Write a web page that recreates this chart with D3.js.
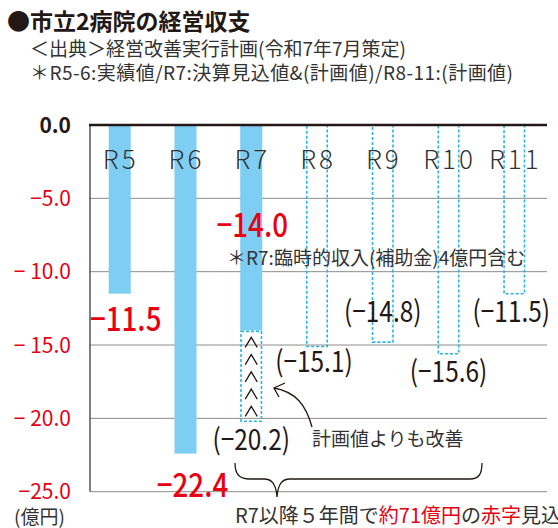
<html lang="ja">
<head>
<meta charset="utf-8">
<title>市立2病院の経営収支</title>
<script src="https://d3js.org/d3.v7.min.js"></script>
<style>
  body { margin: 0; background: #fff; font-family: "Noto Sans CJK JP", sans-serif; }
  svg text { font-family: "Noto Sans CJK JP", sans-serif; }
  .grid { stroke: #8c8c8c; stroke-width: 1; }
  .plan { fill: none; stroke: #2bb3e6; stroke-width: 1.6; stroke-dasharray: 3 2; }
  .ink { fill: none; stroke: #231815; stroke-width: 1.3; }
</style>
</head>
<body>
<div class="main"></div>
<script>
// data
var categories = ["R5", "R6", "R7", "R8", "R9", "R10", "R11"]
var actual = [-11.5, -22.4, -14.0, null, null, null, null]   // 実績値 / 決算見込値
var plan = [null, null, -20.2, -15.1, -14.8, -15.6, -11.5]   // 計画値
var yTicks = [0, -5, -10, -15, -20, -25]
var yTickLabels = ["0.0", "\u22125.0", "\u2212 10.0", "\u2212 15.0", "\u2212 20.0", "\u221225.0"]

var width = 558, height = 528
var red = "#e60012", dark = "#231815", barColor = "#7ecef4"

var svg = d3.select(".main").append("svg")
  .attr("width", width).attr("height", height)

var x = d3.scaleBand()
  .domain(categories)
  .range([87, 547])
  .paddingInner(0.665)
  .paddingOuter(0.33)

var y = d3.scaleLinear()
  .domain([0, -25])
  .range([125, 491.7])

var fmt = function(v){ return "\u2212" + d3.format(".1f")(Math.abs(v)) }

// titles
svg.append("text").attr("x", 7).attr("y", 30)
  .attr("font-size", 23).attr("font-weight", "bold").attr("fill", dark)
  .text("●市立2病院の経営収支")
svg.append("text").attr("x", 30).attr("y", 56)
  .attr("font-size", 19).attr("fill", "#333")
  .text("＜出典＞経営改善実行計画(令和7年7月策定)")
svg.append("text").attr("x", 30).attr("y", 80)
  .attr("font-size", 19).attr("fill", "#333")
  .attr("textLength", 483).attr("lengthAdjust", "spacing")
  .text("＊R5-6:実績値/R7:決算見込値&(計画値)/R8-11:(計画値)")

// grid
svg.selectAll(".grid").data(yTicks.filter(function(d){ return d != 0 }))
  .enter().append("line").attr("class", "grid")
  .attr("x1", 90).attr("x2", 547)
  .attr("y1", function(d){ return y(d) }).attr("y2", function(d){ return y(d) })

// tick labels
svg.selectAll(".tick").data(yTicks).enter().append("text")
  .attr("class", "tick")
  .attr("x", 71).attr("y", function(d){ return y(d) })
  .attr("dy", "0.36em")
  .attr("text-anchor", "end")
  .attr("font-size", 21)
  .attr("font-weight", function(d){ return d == 0 ? "bold" : "normal" })
  .attr("fill", function(d){ return d == 0 ? dark : red })
  .text(function(d, i){ return yTickLabels[i] })

svg.append("text").attr("x", 14).attr("y", 524)
  .attr("font-size", 19).attr("fill", "#333").text("(億円)")

// solid bars
var rows = categories.map(function(c, i){ return {cat: c, actual: actual[i], plan: plan[i]} })

svg.selectAll(".bar").data(rows.filter(function(d){ return d.actual != null }))
  .enter().append("rect").attr("class", "bar")
  .attr("x", function(d){ return x(d.cat) })
  .attr("width", x.bandwidth())
  .attr("y", y(0))
  .attr("height", function(d){ return y(d.actual) - y(0) })
  .attr("fill", barColor)

// dashed plan boxes (start where the solid bar ends)
svg.selectAll(".plan").data(rows.filter(function(d){ return d.plan != null }))
  .enter().append("rect").attr("class", "plan")
  .attr("x", function(d){ return x(d.cat) + 0.8 })
  .attr("width", x.bandwidth() - 1.6)
  .attr("y", function(d){ return d.actual != null ? y(d.actual) + 1 : y(0) })
  .attr("height", function(d){ return y(d.plan) - (d.actual != null ? y(d.actual) + 1 : y(0)) })

// chevrons inside R7 box
var r7 = rows[2]
var cx7 = x(r7.cat) + x.bandwidth() / 2
var chevY = d3.range(5).map(function(i){
  return y(r7.actual) + 12 + i * (y(r7.plan) - y(r7.actual) - 22) / 4
})
svg.selectAll(".chev").data(chevY).enter().append("path")
  .attr("class", "ink")
  .attr("d", function(d){ return "M" + (cx7 - 6) + "," + (d + 5) + "L" + cx7 + "," + (d - 5) + "L" + (cx7 + 6) + "," + (d + 5) })

// axes
svg.append("line").attr("x1", 90).attr("x2", 90).attr("y1", y(0)).attr("y2", y(-25))
  .attr("stroke", "#555").attr("stroke-width", 1.5)
svg.append("line").attr("x1", 89).attr("x2", 547).attr("y1", y(0)).attr("y2", y(0))
  .attr("stroke", dark).attr("stroke-width", 2.5)

// category labels
svg.selectAll(".cat").data(categories).enter().append("text")
  .attr("x", function(d){ return x(d) + x.bandwidth() / 2 + 1 })
  .attr("y", 169)
  .attr("text-anchor", "middle")
  .attr("font-size", 26).attr("font-weight", 300)
  .attr("letter-spacing", 3)
  .attr("fill", "#333")
  .text(function(d){ return d })

// value labels
var actualOff = [[6, 37], [7, 43.5], [1, -93]]
var planOff = [null, null, [0, 29], [-3, 26], [0, -20], [0, 28], [-3, 28]]

function squeeze(sel, k){
  sel.each(function(){
    var w = this.getComputedTextLength()
    d3.select(this).attr("textLength", w * k).attr("lengthAdjust", "spacingAndGlyphs")
  })
}

svg.selectAll(".alab").data(rows.filter(function(d){ return d.actual != null }))
  .enter().append("text")
  .attr("x", function(d, i){ return x(d.cat) + x.bandwidth() / 2 + actualOff[i][0] })
  .attr("y", function(d, i){ return y(d.actual) + actualOff[i][1] })
  .attr("text-anchor", "middle")
  .attr("font-size", 33).attr("font-weight", 500)
  .attr("fill", red)
  .text(function(d){ return fmt(d.actual) })
  .call(squeeze, 0.84)

svg.selectAll(".plab").data(rows).enter()
  .filter(function(d){ return d.plan != null })
  .append("text")
  .attr("x", function(d){ return x(d.cat) + x.bandwidth() / 2 + planOff[categories.indexOf(d.cat)][0] })
  .attr("y", function(d){ return y(d.plan) + planOff[categories.indexOf(d.cat)][1] })
  .attr("text-anchor", "middle")
  .attr("font-size", 29)
  .attr("fill", dark)
  .text(function(d){ return "(" + fmt(d.plan) + ")" })
  .call(squeeze, 0.84)

// notes
svg.append("text").attr("x", 227).attr("y", 265)
  .attr("font-size", 19).attr("fill", "#333")
  .text("＊R7:臨時的収入(補助金)4億円含む")

svg.append("text").attr("x", 312).attr("y", 446)
  .attr("font-size", 19).attr("fill", "#333")
  .text("計画値よりも改善")

// arrow
svg.append("path").attr("class", "ink")
  .attr("d", "M312,427C306,405 296,392 274,388")
svg.append("path").attr("class", "ink")
  .attr("d", "M285,383L274,388L279,397")

// brace
svg.append("path").attr("class", "ink")
  .attr("d", "M235,463C235,475 240,479 250,479L264,479C272,479 276,484 277,497C278,484 282,479 290,479L470,479C478,479 482,475 482,463")

var bottom = svg.append("text").attr("x", 235).attr("y", 523)
  .attr("font-size", 20).attr("fill", "#333")
bottom.append("tspan").text("R7以降５年間で")
bottom.append("tspan").attr("fill", red).text("約71億円")
bottom.append("tspan").text("の")
bottom.append("tspan").attr("fill", red).text("赤字")
bottom.append("tspan").text("見込")
</script>
</body>
</html>
